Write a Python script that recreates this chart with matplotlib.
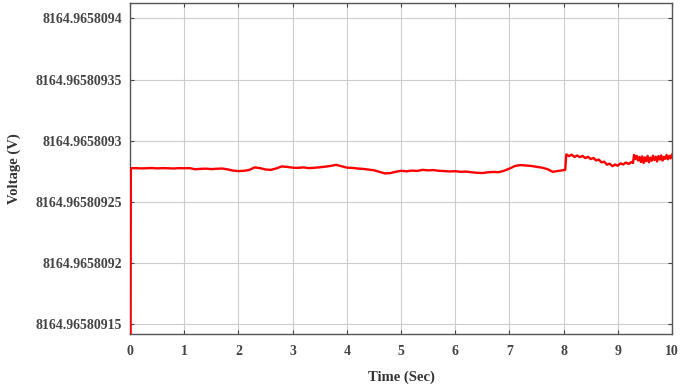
import numpy as np
import matplotlib
matplotlib.use("Agg")
from matplotlib import pyplot as plt

# voltage is stored as base + offset (offset in nV)
base_v = 8164.965809
time_s = [0.01, 0.015, 0.1, 0.2, 0.3, 0.4, 0.5, 0.6, 0.7, 0.8, 0.9,
          1.0, 1.1, 1.2, 1.3, 1.4, 1.5, 1.6, 1.7, 1.8, 1.9,
          2.0, 2.1, 2.2, 2.3, 2.4, 2.5, 2.6, 2.7, 2.8, 2.9,
          3.0, 3.1, 3.2, 3.3, 3.4, 3.5, 3.6, 3.7, 3.8, 3.9,
          4.0, 4.1, 4.2, 4.3, 4.4, 4.5, 4.6, 4.7, 4.8, 4.9,
          5.0, 5.1, 5.2, 5.3, 5.4, 5.5, 5.6, 5.7, 5.8, 5.9,
          6.0, 6.1, 6.2, 6.3, 6.4, 6.5, 6.6, 6.7, 6.8, 6.9,
          7.0, 7.1, 7.2, 7.3, 7.4, 7.5, 7.6, 7.7, 7.8, 7.9,
          8.0, 8.03, 8.05, 8.1, 8.15, 8.2, 8.25, 8.3, 8.35, 8.4, 8.45, 8.5,
          8.55, 8.6, 8.65, 8.7, 8.75, 8.8, 8.85, 8.9, 8.95,
          9.0, 9.05, 9.1, 9.15, 9.2, 9.25, 9.28, 9.3, 9.325, 9.35, 9.375,
          9.4, 9.425, 9.45, 9.475, 9.5, 9.525, 9.55, 9.575, 9.6, 9.625,
          9.65, 9.675, 9.7, 9.725, 9.75, 9.775, 9.8, 9.825, 9.85, 9.875,
          9.9, 9.925, 9.95, 9.975, 10.0]
offset_nv = [140.0, 277.5, 277.6, 277.4, 277.5, 277.7, 277.4, 277.6, 277.5, 277.3, 277.6,
             277.5, 277.6, 276.7, 277.0, 277.2, 276.8, 277.1, 277.3, 276.6, 275.6,
             275.2, 275.4, 276.1, 278.2, 277.6, 276.5, 276.2, 277.4, 279.0, 278.6,
             278.0, 277.8, 278.2, 277.6, 277.9, 278.3, 278.8, 279.4, 280.3, 279.2,
             278.0, 277.8, 277.3, 277.0, 276.4, 275.9, 274.6, 273.3, 273.5, 274.6,
             275.4, 275.0, 275.6, 275.3, 276.2, 275.8, 276.0, 275.4, 275.2, 274.9,
             275.1, 274.6, 274.8, 274.2, 273.8, 273.6, 274.2, 274.5, 274.3, 275.4,
             277.2, 279.3, 280.1, 279.8, 279.4, 278.7, 278.0, 276.8, 274.6, 275.3,
             276.0, 276.2, 288.8, 287.4, 288.6, 286.8, 287.9, 286.6, 287.6, 285.8, 286.9, 285.0,
             285.9, 283.9, 284.6, 282.3, 282.9, 280.4, 281.3, 279.2, 280.5,
             279.6, 281.5, 280.6, 282.2, 281.0, 282.6, 281.8, 288.4, 285.0, 287.6, 283.8,
             286.8, 282.6, 287.2, 281.8, 286.4, 283.2, 287.6, 282.4, 286.2, 283.6,
             287.8, 284.2, 286.9, 283.0, 287.4, 284.6, 288.0, 283.8, 286.8, 285.2,
             288.4, 284.8, 287.6, 285.6, 288.6]
ytick_nv = [150, 200, 250, 300, 350, 400]
xticks = list(range(11))

voltage = base_v + np.array(offset_nv) * 1e-9
ytick_vals = [base_v + t * 1e-9 for t in ytick_nv]
ytick_labels = [f"{v:.8f}".rstrip('0') for v in ytick_vals]

plt.rcParams['font.family'] = ['Liberation Serif', 'DejaVu Serif']
plt.rcParams['font.weight'] = 'bold'

fig = plt.figure(figsize=(6.85, 3.86), dpi=100)
ax = fig.add_axes([0.1898, 0.1347, 0.7912, 0.8575])
ax.plot(time_s, voltage, color='red', linewidth=1.7, zorder=3)

ax.set_xlim(0, 10)
ax.set_ylim(base_v + 142.1e-9, base_v + 412.5e-9)
ax.set_xticks(xticks)
ax.set_xticklabels([str(x) for x in xticks], fontsize=10, fontweight='bold')
ax.set_yticks(ytick_vals)
ax.set_yticklabels(ytick_labels, fontsize=10, fontweight='bold', color='#333333')
for lab in ax.get_xticklabels():
    lab.set_color('#333333')

ax.grid(True, color='#cccccc', linewidth=0.8)
ax.tick_params(direction='in', length=3, width=0.8, top=True, right=True, colors='#444444')
ax.tick_params(axis='x', pad=8)
ax.tick_params(axis='y', pad=6)
for s in ax.spines.values():
    s.set_color('#555555')
    s.set_linewidth(1.0)

ax.set_xlabel("Time (Sec)", fontsize=10.5, fontweight='bold', color='#333333', labelpad=9)
ax.set_ylabel("Voltage (V)", fontsize=10.5, fontweight='bold', color='#333333', labelpad=10)

plt.savefig("out.png", dpi=100)
